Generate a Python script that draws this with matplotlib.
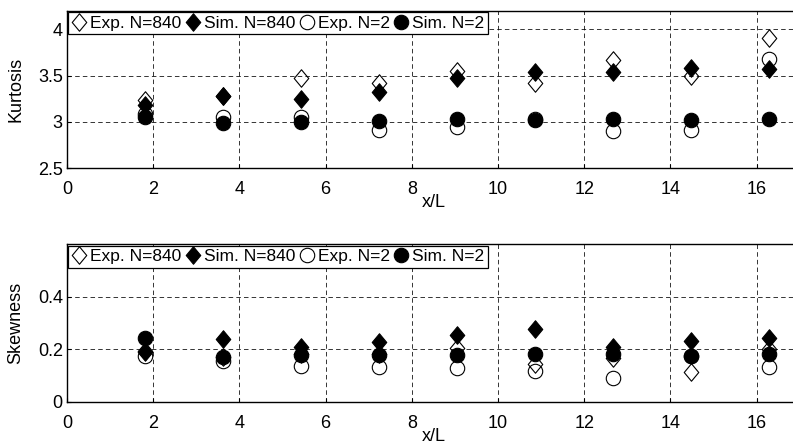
import matplotlib
matplotlib.use("Agg")
import matplotlib.pyplot as plt
from matplotlib.path import Path

# Streamwise stations (x/L)
x_over_L = [1.81, 3.62, 5.43, 7.24, 9.05, 10.86, 12.67, 14.48, 16.29]

# Kurtosis
kurt_exp_840 = [3.24, 3.28, 3.47, 3.42, 3.55, 3.42, 3.67, 3.50, 3.90]
kurt_sim_840 = [3.18, 3.28, 3.25, 3.32, 3.47, 3.54, 3.54, 3.58, 3.57]
kurt_exp_2 = [3.09, 3.05, 3.05, 2.91, 2.95, 3.03, 2.90, 2.915, 3.68]
kurt_sim_2 = [3.05, 2.99, 3.00, 3.005, 3.035, 3.025, 3.03, 3.025, 3.035]

# Skewness
skew_exp_840 = [0.195, 0.17, 0.18, 0.18, 0.205, 0.145, 0.167, 0.115, 0.20]
skew_sim_840 = [0.19, 0.238, 0.21, 0.228, 0.255, 0.278, 0.21, 0.232, 0.242]
skew_exp_2 = [0.176, 0.156, 0.137, 0.133, 0.127, 0.118, 0.092, 0.174, 0.133]
skew_sim_2 = [0.242, 0.171, 0.178, 0.178, 0.178, 0.182, 0.18, 0.174, 0.18]

labels = ["Exp. N=840", "Sim. N=840", "Exp. N=2", "Sim. N=2"]

# slightly taller-than-wide diamond
diamond = Path([(0, 1), (0.83, 0), (0, -1), (-0.83, 0), (0, 1)],
               [Path.MOVETO, Path.LINETO, Path.LINETO, Path.LINETO, Path.CLOSEPOLY])
markers = [diamond, diamond, "o", "o"]
filled = [False, True, False, True]
sizes = [12.6, 12.6, 10.4, 10.4]

x_ticks = [0, 2, 4, 6, 8, 10, 12, 14, 16]

plt.rcParams["font.family"] = ["Liberation Sans", "DejaVu Sans"]
plt.rcParams["font.size"] = 13

fig = plt.figure(figsize=(7.93, 4.44), dpi=100)
ax_k = fig.add_axes([0.0845, 0.621, 0.924, 0.355])
ax_s = fig.add_axes([0.0845, 0.0953, 0.924, 0.3545])


def draw_panel(ax, series, ylim, yticks, yticklabels, ylabel):
    for vals, lab, mk, fill, ms in zip(series, labels, markers, filled, sizes):
        ax.plot(x_over_L, vals, linestyle="none", marker=mk, markersize=ms,
                markerfacecolor="k" if fill else "none",
                markeredgecolor="k", markeredgewidth=0.8, label=lab)
    ax.set_xlim(0, 17)
    ax.set_ylim(*ylim)
    ax.set_xticks(x_ticks)
    ax.set_yticks(yticks)
    ax.set_yticklabels(yticklabels)
    ax.set_axisbelow(True)
    ax.grid(True, color="k", linestyle=(0, (5, 3.5)), linewidth=0.65, alpha=0.85)
    for sp in ax.spines.values():
        sp.set_linewidth(1.0)
    ax.tick_params(axis="x", direction="in", length=3, width=0.8, pad=9.5)
    ax.tick_params(axis="y", direction="in", length=3, width=0.8, pad=3)
    ax.set_xlabel("x/L")
    ax.xaxis.set_label_coords(0.5, -0.165)
    ax.set_ylabel(ylabel)
    ax.yaxis.set_label_coords(-0.058, 0.5)
    leg = ax.legend(loc="upper left", ncol=4, frameon=True, fancybox=False,
                    edgecolor="k", framealpha=1, borderaxespad=0.08,
                    borderpad=0.2, handlelength=0.8, handletextpad=0.25,
                    columnspacing=0.25, fontsize=12.5)
    leg.get_frame().set_linewidth(0.9)


draw_panel(ax_k, [kurt_exp_840, kurt_sim_840, kurt_exp_2, kurt_sim_2],
           (2.5, 4.2), [2.5, 3, 3.5, 4], ["2.5", "3", "3.5", "4"], "Kurtosis")
draw_panel(ax_s, [skew_exp_840, skew_sim_840, skew_exp_2, skew_sim_2],
           (0, 0.6), [0, 0.2, 0.4], ["0", "0.2", "0.4"], "Skewness")

fig.savefig("out.png", dpi=100)
